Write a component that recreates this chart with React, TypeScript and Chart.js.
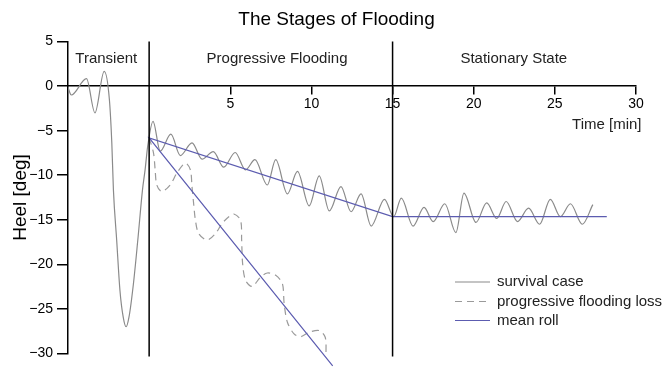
import { useEffect, useRef } from 'react';
import { Chart, registerables } from 'chart.js';

Chart.register(...registerables);

const FONT = '"Liberation Sans", Arial, Helvetica, sans-serif';

// survival case (time [min], heel [deg])
const survivalTime = [
  -5.0, -4.8, -3.86, -3.34, -2.77, -2.45, -2.3, -2.2, -2.0, -1.8, -1.6, -1.42, -1.24, -0.97, -0.7, -0.41, -0.25, -0.09,
  0.24, 0.68, 1.34, 1.92, 2.64, 3.26, 3.95, 4.6, 5.3, 5.94, 6.52, 7.28, 7.8, 8.52, 9.14, 9.86, 10.48, 11.1, 11.82,
  12.44, 13.06, 13.68, 14.5, 15.07, 15.54, 16.26, 16.94, 17.5, 18.22, 18.9, 19.4, 20.14, 20.8, 21.42, 22.0, 22.7,
  23.38, 24.06, 24.72, 25.34, 25.96, 26.69, 27.34,
];
const survivalHeel = [
  -0.15, -1.0, 0.83, -3.0, 1.65, -1.5, -6.4, -11.7, -17.3, -22.9, -25.9, -27.0, -25.9, -22.2, -17.3, -11.65, -9.4, -6.76,
  -3.95, -7.3, -5.4, -7.8, -6.38, -8.2, -7.35, -9.1, -7.45, -9.4, -8.26, -11.1, -8.26, -12.1, -9.58, -13.45, -10.07,
  -14.0, -11.27, -14.1, -12.1, -15.7, -12.7, -14.65, -12.58, -15.7, -13.6, -15.2, -13.2, -16.45, -12.0, -15.3, -13.1,
  -14.85, -12.95, -15.2, -13.7, -15.5, -12.7, -14.65, -13.2, -15.5, -13.3,
];

// progressive flooding loss
const lossTime = [
  0, 0.27, 0.37, 0.47, 0.78, 1.3, 1.71, 2.23, 2.54, 2.64, 2.74, 2.85, 3.05, 3.57, 4.09, 4.5, 4.91, 5.22, 5.63, 5.7,
  5.76, 5.94, 6.35, 6.87, 7.28, 7.8, 8.21, 8.32, 8.52, 8.93, 9.35, 9.86, 10.48, 10.85, 10.9,
];
const lossHeel = [
  -5.82, -7.51, -9.39, -11.08, -11.84, -11.08, -9.76, -8.64, -9.39, -11.27, -13.15, -15.03, -16.53, -17.28, -16.53,
  -15.4, -14.66, -14.35, -15.03, -17.28, -19.91, -21.79, -22.47, -21.42, -20.97, -21.23, -22.16, -24.42, -26.49,
  -27.8, -28.11, -27.62, -27.43, -28.18, -30.25,
];

// mean roll (steep branch end -> start -> stationary level)
const meanTime = [11.31, 0, 15, 28.2];
const meanHeel = [-31.38, -5.82, -14.65, -14.65];

const phaseBounds = [0, 15];
const phaseNames = ['Transient', 'Progressive Flooding', 'Stationary State'];
const phaseLabelTime = [-2.64, 7.88, 22.47];
const xTickValues = [5, 10, 15, 20, 25, 30];
const legendLabels = ['survival case', 'progressive flooding loss', 'mean roll'];
const titleText = 'The Stages of Flooding';

const SURV_COLOR = '#8a8a8a';
const LOSS_COLOR = '#9a9a9a';
const MEAN_COLOR = '#5c5cb0';

const pts = (xs: number[], ys: number[]) => xs.map((x, i) => ({ x, y: ys[i] }));

const annotPlugin = {
  id: 'annot',
  afterDraw(chart: any) {
    const { ctx, scales } = chart;
    const xs = scales.x;
    const ys = scales.y;
    ctx.save();
    // title
    ctx.fillStyle = '#000';
    ctx.font = `19px ${FONT}`;
    ctx.textAlign = 'center';
    ctx.textBaseline = 'middle';
    ctx.fillText(titleText, 336.5, 19.5);

    ctx.fillStyle = '#222';
    ctx.font = `15px ${FONT}`;
    phaseNames.forEach((n, i) => {
      ctx.fillText(n, xs.getPixelForValue(phaseLabelTime[i]), ys.getPixelForValue(3.0));
    });
    ctx.textAlign = 'right';
    ctx.fillText('Time [min]', xs.right + 5.5, ys.getPixelForValue(0) + 39);

    // legend
    const lx = 455;
    const rows = [282, 301.5, 320.5];
    const styles = [
      { c: SURV_COLOR, d: [] as number[] },
      { c: LOSS_COLOR, d: [7, 5] },
      { c: MEAN_COLOR, d: [] as number[] },
    ];
    ctx.textAlign = 'left';
    legendLabels.forEach((l, i) => {
      ctx.beginPath();
      ctx.setLineDash(styles[i].d);
      ctx.strokeStyle = styles[i].c;
      ctx.lineWidth = 1.2;
      ctx.moveTo(lx, rows[i]);
      ctx.lineTo(lx + 35, rows[i]);
      ctx.stroke();
      ctx.setLineDash([]);
      ctx.fillStyle = '#222';
      ctx.fillText(l, lx + 42, rows[i]);
    });
    ctx.restore();
  },
};

export default function App() {
  const ref = useRef<HTMLCanvasElement>(null);
  useEffect(() => {
    if (!ref.current) return;
    const boundary = (t: number) => ({
      label: 'phase ' + t,
      data: [{ x: t, y: 5 }, { x: t, y: -30.35 }],
      borderColor: '#000',
      borderWidth: 1.5,
      pointRadius: 0,
      tension: 0,
      clip: false,
    });
    const chart = new Chart(ref.current, {
      type: 'line',
      data: {
        datasets: [
          ...phaseBounds.map(boundary),
          {
            label: 'mean roll',
            data: pts(meanTime, meanHeel),
            borderColor: MEAN_COLOR,
            borderWidth: 1.2,
            pointRadius: 0,
            tension: 0,
            clip: false,
          },
          {
            label: 'progressive flooding loss',
            data: pts(lossTime, lossHeel),
            borderColor: LOSS_COLOR,
            borderWidth: 1.2,
            borderDash: [7, 5],
            pointRadius: 0,
            tension: 0.3,
            clip: false,
          },
          {
            label: 'survival case',
            data: pts(survivalTime, survivalHeel),
            borderColor: SURV_COLOR,
            borderWidth: 1.2,
            pointRadius: 0,
            cubicInterpolationMode: 'monotone',
          },
        ] as any,
      },
      options: {
        animation: false,
        responsive: false,
        layout: { padding: { left: 0, right: 28, top: 41.5, bottom: 13.5 } },
        plugins: {
          legend: { display: false },
          tooltip: { enabled: false },
          title: { display: false },
        },
        scales: {
          x: {
            type: 'linear',
            min: -5,
            max: 30,
            position: { y: 0 } as any,
            afterBuildTicks: (s: any) => {
              s.ticks = xTickValues.map((v) => ({ value: v }));
            },
            ticks: {
              color: '#000',
              font: { size: 14, family: FONT },
              padding: 2,
              maxRotation: 0,
              autoSkip: false,
              callback: (v: any) => String(v),
            },
            grid: { drawOnChartArea: false, tickLength: 8, color: '#000', lineWidth: 1.5 },
            border: { display: true, color: '#000', width: 1.5 },
          },
          y: {
            type: 'linear',
            min: -30,
            max: 5,
            position: 'left',
            afterFit: (s: any) => {
              s.width = 68;
            },
            ticks: {
              stepSize: 5,
              color: '#000',
              font: { size: 14, family: FONT },
              padding: 4,
              callback: (v: any) => (Number(v) < 0 ? '\u2212' + Math.abs(Number(v)) : String(v)),
            },
            grid: { drawOnChartArea: false, tickLength: 11, color: '#000', lineWidth: 1.5 },
            border: { display: true, color: '#000', width: 1.5 },
            title: {
              display: true,
              text: 'Heel [deg]',
              color: '#000',
              font: { size: 19, family: FONT },
              padding: { top: 9, bottom: 0 },
            },
          },
        },
      } as any,
      plugins: [annotPlugin],
    });
    return () => chart.destroy();
  }, []);
  return (
    <div style={{ position: 'fixed', left: 0, top: 0, width: 664, height: 367, background: '#fff' }}>
      <canvas ref={ref} width={664} height={367} style={{ display: 'block' }} />
    </div>
  );
}
